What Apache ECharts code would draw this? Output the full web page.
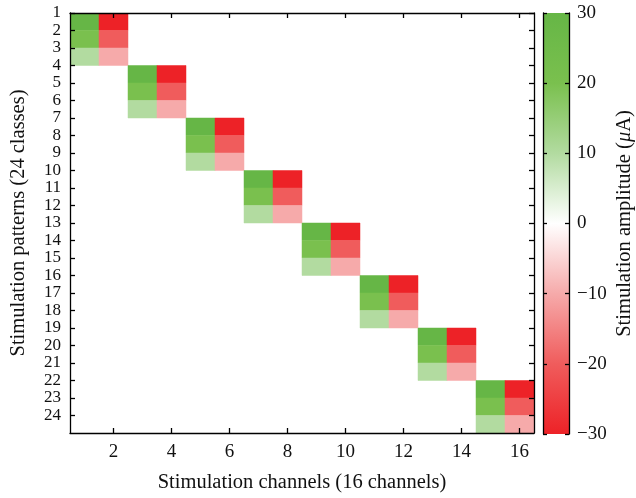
<!DOCTYPE html>
<html>
<head>
<meta charset="utf-8">
<script src="https://cdn.jsdelivr.net/npm/echarts@6/dist/echarts.min.js"></script>
<style>html,body{margin:0;padding:0;background:#fff}#c{width:636px;height:498px}</style>
</head>
<body>
<div id="c"></div>
<script>
// ---- data ----
const patternTicks = [1,2,3,4,5,6,7,8,9,10,11,12,13,14,15,16,17,18,19,20,21,22,23,24];
const channelTicks = [2,4,6,8,10,12,14,16];
const cellPatterns = [1,1,2,2,3,3, 4,4,5,5,6,6, 7,7,8,8,9,9, 10,10,11,11,12,12, 13,13,14,14,15,15, 16,16,17,17,18,18, 19,19,20,20,21,21, 22,22,23,23,24,24];
const cellChannels = [1,2,1,2,1,2, 3,4,3,4,3,4, 5,6,5,6,5,6, 7,8,7,8,7,8, 9,10,9,10,9,10, 11,12,11,12,11,12, 13,14,13,14,13,14, 15,16,15,16,15,16];
const cellAmplitudes = [30,-30,20,-20,10,-10, 30,-30,20,-20,10,-10, 30,-30,20,-20,10,-10, 30,-30,20,-20,10,-10, 30,-30,20,-20,10,-10, 30,-30,20,-20,10,-10, 30,-30,20,-20,10,-10, 30,-30,20,-20,10,-10];
const colorbarTicks = [-30,-20,-10,0,10,20,30];
const colorScale = ['#ED2227','#F05C5C','#F6AAAA','#FFFFFF','#B2DBA0','#7AC04E','#66B646']; // -30 .. 30

const cells = cellPatterns.map((p,i)=>[cellChannels[i], p, cellAmplitudes[i]]);

const FONT = 'Liberation Serif';
const axisLine = {show:true, lineStyle:{color:'#000', width:1.3}};
const fmtNum = v => v < 0 ? '\u2212' + (-v) : String(v);

const chart = echarts.init(document.getElementById('c'), null, {renderer:'canvas'});
chart.setOption({
  backgroundColor:'#fff',
  animation:false,
  textStyle:{fontFamily:FONT},
  grid:[
    {left:69, top:13, width:465, height:421},
    {left:543, top:13, width:29, height:421}
  ],
  visualMap:{show:false, type:'continuous', min:-30, max:30, dimension:2, seriesIndex:0, inRange:{color:colorScale}},
  xAxis:[
    {type:'value', gridIndex:0, position:'bottom', min:0.5, max:16.5, z:5,
     axisLine, splitLine:{show:false},
     axisTick:{show:true, inside:true, length:5, customValues:channelTicks, lineStyle:{color:'#000',width:1.3}},
     axisLabel:{show:true, customValues:channelTicks, margin:10, color:'#111', fontSize:19, fontFamily:FONT},
     name:'Stimulation channels (16 channels)', nameLocation:'middle', nameGap:39,
     nameTextStyle:{fontSize:20.5, color:'#111', fontFamily:FONT}},
    {type:'value', gridIndex:0, position:'top', min:0.5, max:16.5, z:5,
     axisLine, splitLine:{show:false},
     axisTick:{show:true, inside:true, length:5, customValues:channelTicks, lineStyle:{color:'#000',width:1.3}},
     axisLabel:{show:false}},
    {type:'value', gridIndex:1, min:0, max:1, show:false}
  ],
  yAxis:[
    {type:'value', gridIndex:0, position:'left', min:1, max:25, inverse:true, z:5,
     axisLine, splitLine:{show:false},
     axisTick:{show:true, inside:true, length:5, customValues:patternTicks, lineStyle:{color:'#000',width:1.3}},
     axisLabel:{show:true, customValues:patternTicks, margin:9, color:'#111', fontSize:17, fontFamily:FONT},
     name:'Stimulation patterns (24 classes)', nameLocation:'middle', nameGap:41, nameRotate:90,
     nameTextStyle:{fontSize:20.5, color:'#111', fontFamily:FONT}},
    {type:'value', gridIndex:0, position:'right', min:1, max:25, inverse:true, z:5,
     axisLine, splitLine:{show:false},
     axisTick:{show:true, inside:true, length:5, customValues:patternTicks, lineStyle:{color:'#000',width:1.3}},
     axisLabel:{show:false}},
    {type:'value', gridIndex:1, position:'left', min:-30, max:30, interval:10, z:5,
     axisLine, splitLine:{show:false},
     axisTick:{show:true, inside:true, length:4, lineStyle:{color:'#000',width:1.3}},
     axisLabel:{show:false}},
    {type:'value', gridIndex:1, position:'right', min:-30, max:30, interval:10, z:5,
     axisLine, splitLine:{show:false},
     axisTick:{show:true, inside:true, length:4, lineStyle:{color:'#000',width:1.3}},
     axisLabel:{show:true, margin:8, color:'#111', fontSize:19, fontFamily:FONT, formatter:fmtNum},
     name:'Stimulation amplitude ({i|\u03BC}A)', nameLocation:'middle', nameGap:45, nameRotate:90,
     nameTextStyle:{fontSize:20.5, color:'#111', fontFamily:FONT, rich:{i:{fontStyle:'italic', fontSize:20.5, fontFamily:FONT, color:'#111'}}}}
  ],
  series:[
    {type:'custom', xAxisIndex:0, yAxisIndex:0, z:1, clip:true,
     encode:{x:0, y:1},
     data:cells,
     renderItem:function(params, api){
       const ch = api.value(0), p = api.value(1);
       const a = api.coord([ch-0.5, p]);
       const b = api.coord([ch+0.5, p+1]);
       return {type:'rect', shape:{x:a[0], y:a[1], width:b[0]-a[0], height:b[1]-a[1]},
               style:{fill:api.visual('color'), stroke:api.visual('color'), lineWidth:0.5}};
     }},
    {type:'custom', xAxisIndex:2, yAxisIndex:2, z:1,
     data:[[0, colorbarTicks[colorbarTicks.length-1]]],
     renderItem:function(params, api){
       const top = colorbarTicks[colorbarTicks.length-1], bot = colorbarTicks[0];
       const a = api.coord([0, top]);
       const b = api.coord([1, bot]);
       const stops = colorScale.slice().reverse().map((c,i,arr)=>({offset:i/(arr.length-1), color:c}));
       return {type:'rect', shape:{x:a[0], y:a[1], width:b[0]-a[0], height:b[1]-a[1]},
               style:{fill:{type:'linear', x:0, y:0, x2:0, y2:1, colorStops:stops}}};
     }}
  ]
});
</script>
</body>
</html>
